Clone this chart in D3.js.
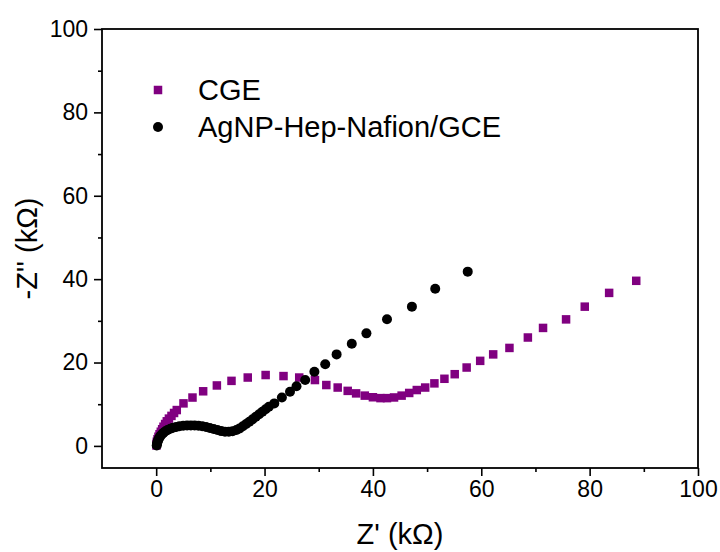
<!DOCTYPE html>
<html><head><meta charset="utf-8">
<script src="https://cdn.jsdelivr.net/npm/d3@7"></script>
<style>body{margin:0;background:#fff}svg text{font-family:Arial,"Liberation Sans",sans-serif}</style>
</head><body><svg id="c" width="720" height="552"></svg>
<script>
const seriesNames = ["CGE", "AgNP-Hep-Nafion/GCE"];
const cgeX = [0.05,0.08,0.12,0.25,0.42,0.62,0.85,1.1,1.35,1.65,1.96,2.35,2.82,3.3,3.8,5.04,6.7,8.67,11.2,13.9,16.9,20.2,23.5,26.4,29.3,31.4,33.5,35.35,36.9,38.5,40.0,41.4,42.6,43.9,45.3,46.7,48.1,49.65,51.35,53.2,55.1,57.3,59.8,62.2,65.2,68.6,71.4,75.65,79.1,83.6,88.6];
const cgeY = [0.1,0.5,1.0,1.6,2.2,2.8,3.4,4.0,4.6,5.25,5.9,6.55,7.2,7.9,8.6,10.2,11.6,13.1,14.5,15.6,16.4,17.0,16.75,16.4,15.8,14.6,14.0,13.2,12.6,12.06,11.67,11.46,11.46,11.62,12.06,12.7,13.4,14.0,15.0,16.1,17.2,18.8,20.4,21.95,23.5,26.0,28.3,30.35,33.4,36.7,39.6];
const agX = [0.10,0.15,0.22,0.32,0.45,0.62,0.82,1.05,1.35,1.7,2.1,2.6,3.1,3.7,4.3,5.0,5.7,6.4,7.1,7.8,8.5,9.2,9.9,10.6,11.3,12.0,12.7,13.4,14.1,14.8,15.4,16.0,16.6,17.2,17.8,18.4,19.0,19.6,20.2,20.8,21.8,23.2,24.7,25.9,27.5,29.2,31.2,33.3,36.1,38.8,42.6,47.2,51.5,57.5];
const agY = [0.10,0.45,0.85,1.25,1.65,2.05,2.45,2.8,3.15,3.5,3.8,4.1,4.35,4.55,4.7,4.82,4.9,4.92,4.9,4.82,4.7,4.52,4.3,4.05,3.8,3.55,3.4,3.38,3.5,3.8,4.2,4.7,5.25,5.8,6.4,7.0,7.6,8.2,8.8,9.4,10.2,11.6,13.0,14.3,15.8,17.8,19.6,21.95,24.5,27.0,30.4,33.4,37.7,41.8];
const xTicks = [0,20,40,60,80,100];
const yTicks = [0,20,40,60,80,100];
const xMinor = [10,30,50,70,90];
const yMinor = [10,30,50,70,90];

const svg = d3.select("#c");
const L = 102, R = 698, T = 29, B = 468;
const x = d3.scaleLinear().domain([-10,100]).range([L,R]);
const y = d3.scaleLinear().domain([-5.3,100]).range([B,T]);

const gx = svg.append("g").attr("transform",`translate(0,${B})`)
  .call(d3.axisBottom(x).tickValues(xTicks).tickSize(8).tickPadding(5).tickFormat(d3.format("d")));
const gxm = svg.append("g").attr("transform",`translate(0,${B})`)
  .call(d3.axisBottom(x).tickValues(xMinor).tickSize(4).tickFormat(""));
const gy = svg.append("g").attr("transform",`translate(${L},0)`)
  .call(d3.axisLeft(y).tickValues(yTicks).tickSize(8).tickPadding(6).tickFormat(d3.format("d")));
const gym = svg.append("g").attr("transform",`translate(${L},0)`)
  .call(d3.axisLeft(y).tickValues(yMinor).tickSize(4).tickFormat(""));
[gx,gxm,gy,gym].forEach(g=>{g.select(".domain").remove();g.selectAll("line").attr("stroke","#000").attr("stroke-width",1.6);
  g.selectAll("text").attr("font-size",23).attr("fill","#000").attr("font-family","Arial, Liberation Sans, sans-serif");});

svg.append("rect").attr("x",L).attr("y",T).attr("width",R-L).attr("height",B-T)
  .attr("fill","none").attr("stroke","#000").attr("stroke-width",1.8);

const cge = cgeX.map((v,i)=>({x:v,y:cgeY[i]}));
const ag = agX.map((v,i)=>({x:v,y:agY[i]}));
const s = 8.5;
svg.append("g").selectAll("rect").data(cge).join("rect")
  .attr("x",d=>x(d.x)-s/2).attr("y",d=>y(d.y)-s/2).attr("width",s).attr("height",s).attr("fill","#800080");
svg.append("g").selectAll("circle").data(ag).join("circle")
  .attr("cx",d=>x(d.x)).attr("cy",d=>y(d.y)).attr("r",5).attr("fill","#000");

// legend
svg.append("rect").attr("x",158-s/2).attr("y",90-s/2).attr("width",s).attr("height",s).attr("fill","#800080");
svg.append("circle").attr("cx",158).attr("cy",127).attr("r",5).attr("fill","#000");
svg.append("text").attr("x",198).attr("y",100).attr("font-size",29).text(seriesNames[0]);
svg.append("text").attr("x",198).attr("y",137).attr("font-size",29).text(seriesNames[1]);

svg.append("text").attr("x",(L+R)/2).attr("y",544).attr("text-anchor","middle").attr("font-size",29).text("Z' (kΩ)");
svg.append("text").attr("transform",`translate(37,${(T+B)/2}) rotate(-90)`).attr("text-anchor","middle").attr("font-size",29).text("-Z'' (kΩ)");
</script></body></html>
